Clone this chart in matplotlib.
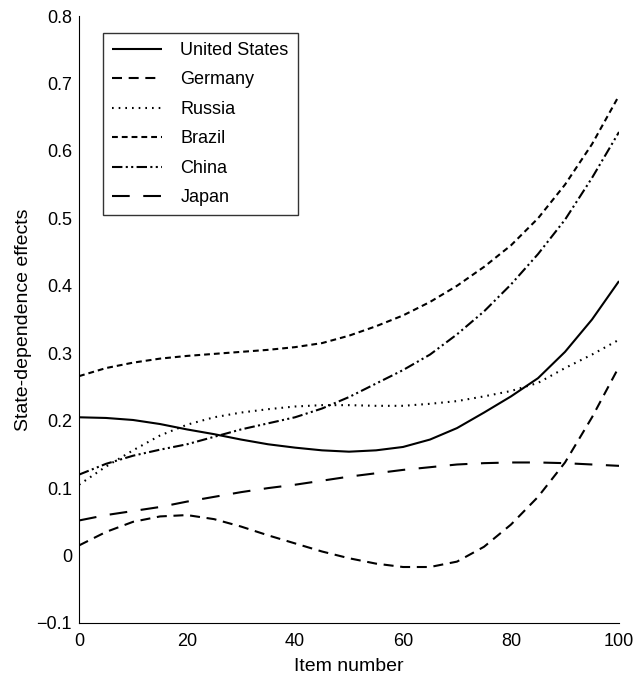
import numpy as np
import matplotlib
matplotlib.use("Agg")
import matplotlib.pyplot as plt

plt.rcParams['font.family'] = ['Liberation Sans', 'DejaVu Sans']

item = [0, 5, 10, 15, 20, 25, 30, 35, 40, 45, 50,
        55, 60, 65, 70, 75, 80, 85, 90, 95, 100]

united_states = [0.205, 0.204, 0.201, 0.195, 0.187, 0.180, 0.172, 0.165, 0.160, 0.156, 0.154,
                 0.156, 0.161, 0.172, 0.189, 0.212, 0.236, 0.263, 0.302, 0.350, 0.407]
germany = [0.015, 0.035, 0.050, 0.058, 0.060, 0.054, 0.043, 0.030, 0.018, 0.006, -0.004,
           -0.012, -0.017, -0.017, -0.009, 0.013, 0.046, 0.087, 0.138, 0.205, 0.280]
russia = [0.105, 0.132, 0.156, 0.178, 0.194, 0.205, 0.212, 0.217, 0.221, 0.223, 0.223,
          0.222, 0.222, 0.225, 0.229, 0.236, 0.244, 0.256, 0.278, 0.298, 0.320]
brazil = [0.266, 0.278, 0.286, 0.292, 0.296, 0.299, 0.302, 0.305, 0.309, 0.315, 0.326,
          0.340, 0.356, 0.376, 0.400, 0.428, 0.460, 0.500, 0.550, 0.610, 0.682]
china = [0.120, 0.136, 0.148, 0.157, 0.165, 0.176, 0.187, 0.196, 0.205, 0.218, 0.235,
         0.255, 0.275, 0.298, 0.328, 0.362, 0.402, 0.447, 0.498, 0.560, 0.628]
japan = [0.052, 0.060, 0.066, 0.072, 0.080, 0.087, 0.094, 0.100, 0.105, 0.111, 0.117,
         0.122, 0.127, 0.131, 0.135, 0.137, 0.138, 0.138, 0.137, 0.135, 0.133]

x_ticks = [0, 20, 40, 60, 80, 100]
y_ticks = [-0.1, 0, 0.1, 0.2, 0.3, 0.4, 0.5, 0.6, 0.7, 0.8]
y_tick_labels = ["\u22120.1", "0", "0.1", "0.2", "0.3", "0.4", "0.5", "0.6", "0.7", "0.8"]

series = [
    ("United States", united_states, (0, ())),
    ("Germany", germany, (0, (4.8, 3.2))),
    ("Russia", russia, (0, (0.8, 2.4))),
    ("Brazil", brazil, (0, (2.8, 1.9))),
    ("China", china, (0, (5, 1.6, 1, 1.6, 1, 1.6))),
    ("Japan", japan, (0, (8.5, 6.5))),
]

fig = plt.figure(figsize=(6.43, 6.84), dpi=100)
ax = fig.add_axes([0.1229, 0.0892, 0.8398, 0.8874])

for name, vals, ls in series:
    ax.plot(item, vals, color="black", linewidth=1.5, linestyle=ls, label=name)

ax.set_xlim(0, 100)
ax.set_ylim(-0.1, 0.8)
ax.set_xticks(x_ticks)
ax.set_yticks(y_ticks)
ax.set_yticklabels(y_tick_labels)
ax.tick_params(length=0, labelsize=13)
ax.tick_params(axis="y", pad=5)
ax.tick_params(axis="x", pad=7)

for side in ["top", "right"]:
    ax.spines[side].set_visible(False)

ax.set_xlabel("Item number", fontsize=14, labelpad=6)
ax.set_ylabel("State-dependence effects", fontsize=14, labelpad=3)

leg = ax.legend(loc="upper left", bbox_to_anchor=(0.044, 0.972), fontsize=13,
                frameon=True, fancybox=False, handlelength=2.8, handletextpad=1.0,
                borderpad=0.5, labelspacing=0.69, borderaxespad=0)
leg.get_frame().set_edgecolor("black")
leg.get_frame().set_linewidth(1.0)

fig.savefig("out.png", dpi=100)
